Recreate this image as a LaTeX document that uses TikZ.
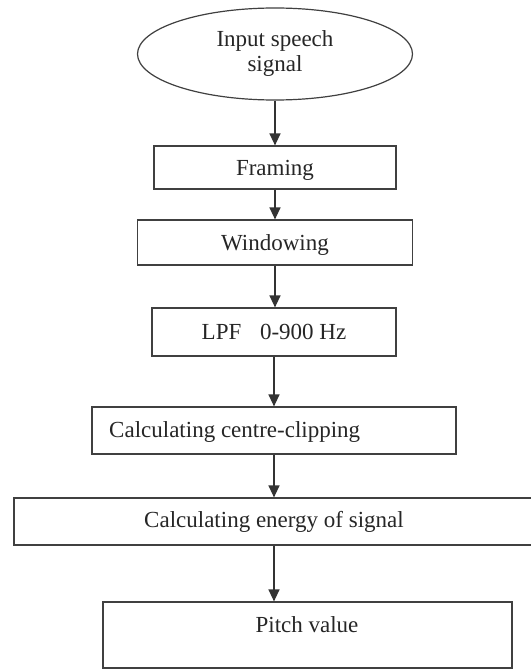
\documentclass[tikz,border=0pt]{standalone}
\usepackage{fontspec}
\setmainfont{Liberation Serif}
\usetikzlibrary{arrows.meta,shapes.geometric}
\begin{document}
\begin{tikzpicture}[x=1pt,y=-1pt,
  every node/.style={font=\fontsize{23}{25}\selectfont, text=black!85},
  boxnode/.style={draw=black!75, line width=1.2pt, rectangle, inner sep=0pt, text depth=0pt},
  ovalnode/.style={draw=black!75, line width=1.2pt, ellipse, inner sep=0pt, minimum width=275pt, minimum height=92pt, align=center},
  flowarrow/.style={draw=black!80, line width=1.3pt, -{Triangle[width=11pt,length=12pt]}}]
\useasboundingbox (0,0) rectangle (530,669);
\fill[white] (0,0) rectangle (530,669);
\node[ovalnode] (inp) at (275,54) {Input speech\\signal};
\node[boxnode, minimum width=242pt, minimum height=43pt] (fra) at (275,167.5) {Framing};
\node[boxnode, minimum width=275pt, minimum height=45pt] (win) at (275,242.5) {Windowing};
\node[boxnode, minimum width=244pt, minimum height=48pt] (lpf) at (274,332) {LPF\hspace{13pt} 0-900 Hz};
\node[boxnode, minimum width=364pt, minimum height=47pt] (clip) at (274,430.5) {};
\node[anchor=base west, inner sep=0pt] (cliptxt) at (109,437) {Calculating centre-clipping};
\node[boxnode, minimum width=540pt, minimum height=47pt] (ene) at (284,521.5) {};
\node[anchor=base, inner sep=0pt] (enetxt) at (274,527.5) {Calculating energy of signal};
\node[boxnode, minimum width=409pt, minimum height=66pt] (pit) at (307.5,635) {};
\node[anchor=base, inner sep=0pt] (pittxt) at (307,632) {Pitch value};
\draw[flowarrow] (inp.south) -- (inp.south |- fra.north);
\draw[flowarrow] (fra.south) -- (fra.south |- win.north);
\draw[flowarrow] (win.south) -- (win.south |- lpf.north);
\draw[flowarrow] (lpf.south) -- (lpf.south |- clip.north);
\draw[flowarrow] (clip.south) -- (clip.south |- ene.north);
\draw[flowarrow] (clip.south |- ene.south) -- (clip.south |- pit.north);
\end{tikzpicture}
\end{document}
